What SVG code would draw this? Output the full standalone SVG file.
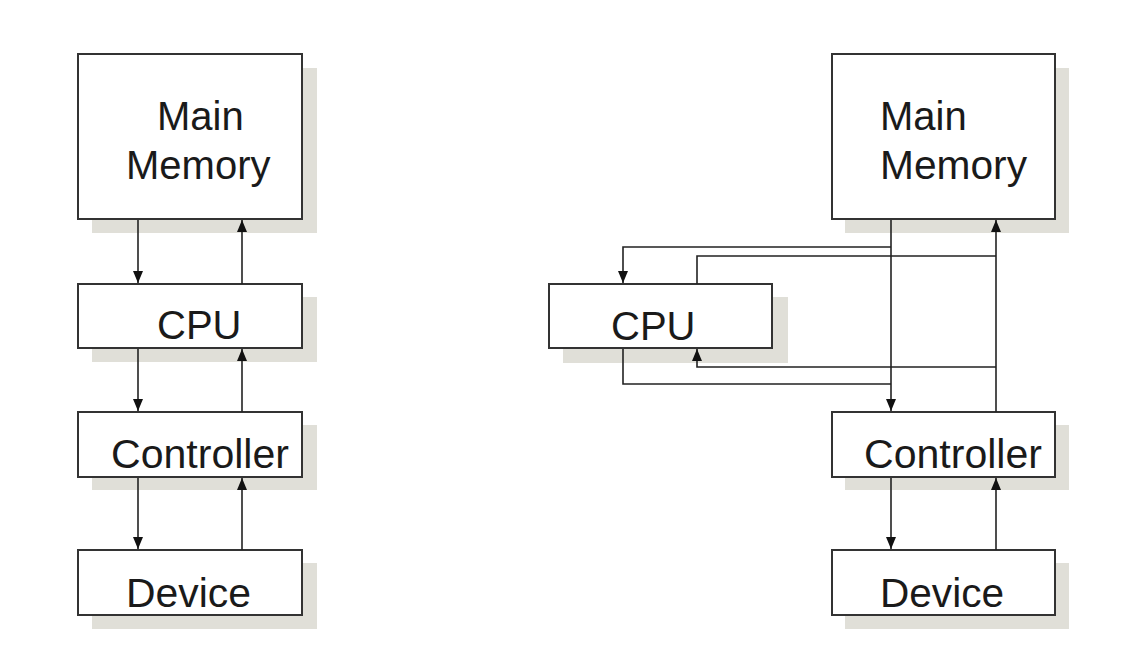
<svg xmlns="http://www.w3.org/2000/svg" width="1129" height="664" viewBox="0 0 1129 664">
<defs>
<marker id="ah" viewBox="0 0 12 10" refX="12" refY="5" markerWidth="12" markerHeight="10" markerUnits="userSpaceOnUse" orient="auto">
<path d="M0,0 L12,5 L0,10 Z" fill="#111"/>
</marker>
<style>
.sh{fill:#e0dfd8;stroke:none}
.bx{fill:#fff;stroke:#333;stroke-width:2}
.t{font-family:"Liberation Sans",Arial,sans-serif;font-size:40px;fill:#1a1a1a}
.c{fill:none;stroke:#222;stroke-width:1.6}
</style>
</defs>
<rect width="1129" height="664" fill="#fff"/>
<g id="left-mainmemory">
<rect class="sh" x="92" y="68" width="225" height="165"/>
<rect class="bx" x="78" y="54" width="224" height="165"/>
<text class="t" x="157" y="130">Main</text>
<text class="t" x="126" y="179">Memory</text>
</g>
<g id="left-cpu">
<rect class="sh" x="92" y="297" width="225" height="65"/>
<rect class="bx" x="78" y="284" width="224" height="64"/>
<text class="t" x="157" y="339">CPU</text>
</g>
<g id="left-controller">
<rect class="sh" x="92" y="425" width="225" height="65"/>
<rect class="bx" x="78" y="412" width="224" height="65"/>
<text class="t" x="111" y="468" textLength="178" lengthAdjust="spacingAndGlyphs">Controller</text>
</g>
<g id="left-device">
<rect class="sh" x="92" y="563" width="225" height="66"/>
<rect class="bx" x="78" y="550" width="224" height="65"/>
<text class="t" x="126" y="607" textLength="125" lengthAdjust="spacingAndGlyphs">Device</text>
</g>
<g id="right-mainmemory">
<rect class="sh" x="845" y="68" width="224" height="165"/>
<rect class="bx" x="832" y="54" width="223" height="165"/>
<text class="t" x="880" y="130">Main</text>
<text class="t" x="880" y="179" textLength="147" lengthAdjust="spacingAndGlyphs">Memory</text>
</g>
<g id="right-cpu">
<rect class="sh" x="563" y="297" width="225" height="66"/>
<rect class="bx" x="549" y="284" width="223" height="64"/>
<text class="t" x="611" y="340">CPU</text>
</g>
<g id="right-controller">
<rect class="sh" x="845" y="425" width="224" height="65"/>
<rect class="bx" x="832" y="412" width="223" height="65"/>
<text class="t" x="864" y="468" textLength="178" lengthAdjust="spacingAndGlyphs">Controller</text>
</g>
<g id="right-device">
<rect class="sh" x="845" y="563" width="224" height="66"/>
<rect class="bx" x="832" y="550" width="223" height="65"/>
<text class="t" x="880" y="607" textLength="124" lengthAdjust="spacingAndGlyphs">Device</text>
</g>
<g id="connectors">
<line class="c" x1="138" y1="220" x2="138" y2="283" marker-end="url(#ah)"/>
<line class="c" x1="242" y1="284" x2="242" y2="220" marker-end="url(#ah)"/>
<line class="c" x1="138" y1="349" x2="138" y2="411" marker-end="url(#ah)"/>
<line class="c" x1="242" y1="412" x2="242" y2="349" marker-end="url(#ah)"/>
<line class="c" x1="138" y1="478" x2="138" y2="549" marker-end="url(#ah)"/>
<line class="c" x1="242" y1="550" x2="242" y2="478" marker-end="url(#ah)"/>
<line class="c" x1="891" y1="220" x2="891" y2="411" marker-end="url(#ah)"/>
<line class="c" x1="996" y1="412" x2="996" y2="220" marker-end="url(#ah)"/>
<polyline class="c" points="891,247 623,247 623,283" marker-end="url(#ah)"/>
<polyline class="c" points="697,284 697,256 996,256"/>
<polyline class="c" points="996,367 697,367 697,349" marker-end="url(#ah)"/>
<polyline class="c" points="623,349 623,384 891,384"/>
<line class="c" x1="891" y1="478" x2="891" y2="549" marker-end="url(#ah)"/>
<line class="c" x1="996" y1="550" x2="996" y2="478" marker-end="url(#ah)"/>
</g>
</svg>
